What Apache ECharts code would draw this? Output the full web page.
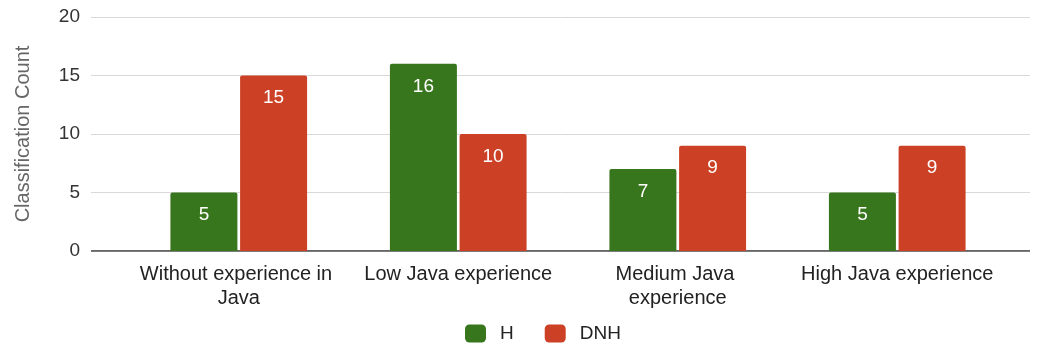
<!DOCTYPE html>
<html>
<head>
<meta charset="utf-8">
<script src="https://cdn.jsdelivr.net/npm/echarts@6/dist/echarts.min.js"></script>
<style>
  html, body { margin: 0; padding: 0; background: #fff; }
  #chart { width: 1039px; height: 347px; }
</style>
</head>
<body>
<div id="chart"></div>
<script>
const categories = ['Without experience in Java', 'Low Java experience', 'Medium Java experience', 'High Java experience']
const hValues = [5, 16, 7, 5]
const dnhValues = [15, 10, 9, 9]
const yTicks = { min: 0, max: 20, interval: 5 }

const chart = echarts.init(document.getElementById('chart'))
const font = 'Liberation Sans, Arial, sans-serif'

// grid 0: gridlines + y labels (wide), grid 1: bars + categories (inset like Sheets)
const option = {
  animation: false,
  textStyle: { fontFamily: font },
  legend: {
    bottom: 4,
    left: 465,
    padding: 0,
    itemWidth: 21,
    itemHeight: 18,
    itemGap: 31,
    icon: 'roundRect',
    textStyle: { fontSize: 19, color: '#222', fontFamily: font, padding: [0, 0, 0, 9] },
    data: ['H', 'DNH']
  },
  grid: [
    { left: 91, right: 9, top: 17, bottom: 96 },
    { left: 129, right: 32, top: 17, bottom: 96 }
  ],
  xAxis: [
    { type: 'value', gridIndex: 0, show: false, min: 0, max: 1 },
    {
      type: 'category',
      gridIndex: 1,
      data: categories,
      axisLine: { show: false },
      axisTick: { show: false },
      axisLabel: {
        fontSize: 20,
        color: '#222',
        margin: 11,
        lineHeight: 24,
        width: 214,
        overflow: 'break',
        interval: 0
      }
    }
  ],
  yAxis: [
    {
      type: 'value',
      gridIndex: 0,
      min: yTicks.min,
      max: yTicks.max,
      interval: yTicks.interval,
      name: 'Classification Count',
      nameLocation: 'middle',
      nameGap: 58,
      nameTextStyle: { fontSize: 20, color: '#666' },
      axisLine: { show: false },
      axisTick: { show: false },
      axisLabel: { fontSize: 19, color: '#333', margin: 11 },
      splitLine: { lineStyle: { color: '#d9d9d9', width: 1 } }
    },
    {
      type: 'value',
      gridIndex: 1,
      min: yTicks.min,
      max: yTicks.max,
      interval: yTicks.interval,
      show: false,
      splitLine: { show: false }
    }
  ],
  series: [
    {
      // zero baseline spanning the full plot width
      type: 'line',
      xAxisIndex: 0,
      yAxisIndex: 0,
      data: [[0, 0], [1, 0]],
      symbol: 'none',
      silent: true,
      lineStyle: { color: '#333', width: 1.5 },
      z: 1
    },
    {
      name: 'H',
      type: 'bar',
      xAxisIndex: 1,
      yAxisIndex: 1,
      data: hValues,
      barWidth: 67,
      barGap: '4%',
      itemStyle: { color: '#38761d', borderRadius: [2, 2, 0, 0] },
      label: { show: true, position: 'insideTop', distance: 13, color: '#fff', fontSize: 19 },
      z: 3
    },
    {
      name: 'DNH',
      type: 'bar',
      xAxisIndex: 1,
      yAxisIndex: 1,
      data: dnhValues,
      barWidth: 67,
      barGap: '4%',
      itemStyle: { color: '#cc4125', borderRadius: [2, 2, 0, 0] },
      label: { show: true, position: 'insideTop', distance: 13, color: '#fff', fontSize: 19 },
      z: 3
    }
  ]
}
chart.setOption(option)
</script>
</body>
</html>
